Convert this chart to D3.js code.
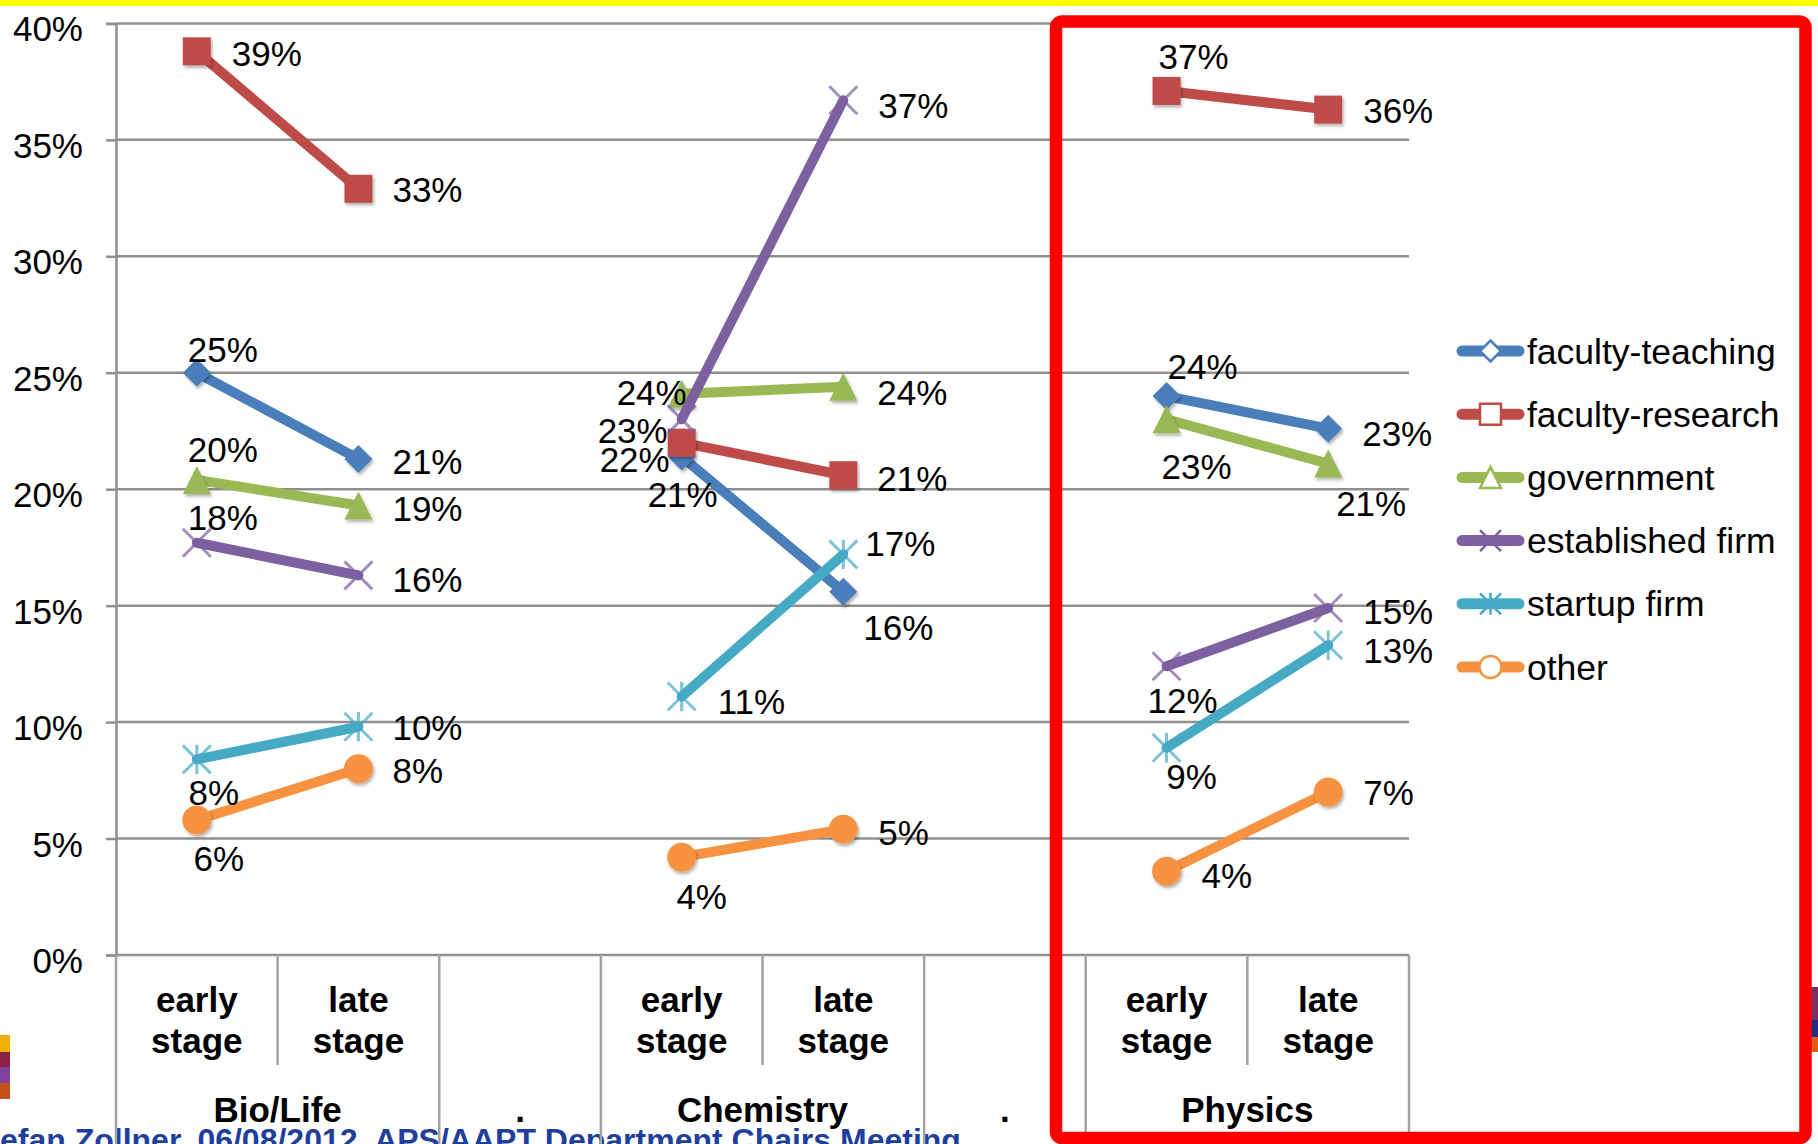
<!DOCTYPE html>
<html>
<head>
<meta charset="utf-8">
<script src="https://cdn.jsdelivr.net/npm/d3@7"></script>
<style>
  html, body { margin: 0; padding: 0; background: #ffffff; }
  svg { display: block; }
  text { font-family: "Liberation Sans", Arial, Helvetica, sans-serif; }
</style>
</head>
<body>
<svg id="chart" width="1818" height="1144"></svg>
<script>
// ---- data ----------------------------------------------------------------
const seriesNames = ["faculty-teaching", "faculty-research", "government",
                     "established firm", "startup firm", "other"];

// one value per plotted point: Bio early, Bio late, Chem early, Chem late, Phys early, Phys late (percent)
const facultyTeaching = [25.0, 21.3, 21.4, 15.6, 24.0, 22.6];
const facultyResearch = [38.8, 32.9, 22.0, 20.6, 37.1, 36.3];
const government      = [20.4, 19.3, 24.1, 24.4, 23.0, 21.1];
const establishedFirm = [17.7, 16.3, 23.0, 36.7, 12.4, 14.9];
const startupFirm     = [ 8.4,  9.8, 11.1, 17.2,  8.9, 13.3];
const other           = [ 5.8,  8.0,  4.2,  5.4,  3.6,  7.0];
const seriesValues = [facultyTeaching, facultyResearch, government,
                      establishedFirm, startupFirm, other];

// category axis: inner level (stage) and outer level (field)
const stageLabels = ["early stage", "late stage", "", "early stage", "late stage", "", "early stage", "late stage"];
const groupLabels = ["Bio/Life", ".", "Chemistry", ".", "Physics"];
const groupSizes  = [2, 1, 2, 1, 2];
const pointCategory = [0, 1, 3, 4, 6, 7];   // category slot of each plotted point
const linePairs = [[0, 1], [2, 3], [4, 5]];  // points joined within each field

const yTicks = [0, 5, 10, 15, 20, 25, 30, 35, 40];

// ---- styling ---------------------------------------------------------------
const seriesColors  = ["#4a7ebb", "#be4b48", "#98b954", "#7d60a0", "#46aac5", "#f69240"];
const seriesMarkers = ["diamond", "square", "triangle", "cross", "star", "circle"];

// data-label placement per point: [anchor, dx, dy to text centre]
const labelPlacement = [
  [["m", 26, -23], ["s", 34, 3], ["m", 1, 38], ["s", 20, 36], ["m", 36, -30], ["s", 34, 5]],
  [["s", 35, 2], ["s", 34, 1], ["e", -12, 17], ["s", 34, 3], ["m", 27, -34], ["s", 35, 1]],
  [["m", 26, -30], ["s", 34, 3], ["e", 5, -1], ["s", 34, 6], ["m", 30, 47], ["m", 43, 40]],
  [["m", 26, -25], ["s", 34, 4], ["e", -14, 11], ["s", 35, 5], ["m", 16, 34], ["s", 35, 4]],
  [["m", 17, 33], ["s", 34, 1], ["s", 36, 5], ["s", 22, -11], ["m", 25, 29], ["s", 35, 5]],
  [["m", 22, 39], ["s", 34, 2], ["m", 20, 39], ["s", 35, 3], ["s", 35, 4], ["s", 35, 1]]
];

const W = 1818, H = 1144;
const plot = { left: 116, right: 1409, top: 23.4, bottom: 955 };
const axisBottom = 1144;
const gridColor = "#8f8f8f";
const fontSize = 35;

const svg = d3.select("#chart");

svg.append("rect").attr("width", W).attr("height", H).attr("fill", "#ffffff");

const defs = svg.append("defs");
const shadow = defs.append("filter").attr("id", "soft")
  .attr("x", "-50%").attr("y", "-50%").attr("width", "200%").attr("height", "200%");
shadow.append("feDropShadow").attr("dx", 1.5).attr("dy", 2.5)
  .attr("stdDeviation", 1.8).attr("flood-color", "#000").attr("flood-opacity", 0.3);

// slide decoration: header band, footer line and side colour blocks
svg.append("rect").attr("x", 0).attr("y", 0).attr("width", W).attr("height", 6).attr("fill", "#ffff00");

svg.append("text")
  .attr("x", -32).attr("y", 1151)
  .attr("font-size", 32).attr("font-weight", "bold").attr("fill", "#1f3f9c")
  .text("Stefan Zollner, 06/08/2012, APS/AAPT Department Chairs Meeting");

const leftBlocks = [["#f0b000", 1035, 1052], ["#8b2245", 1052, 1067], ["#8040a0", 1067, 1083], ["#c4521a", 1083, 1099]];
leftBlocks.forEach(b => svg.append("rect").attr("x", 0).attr("y", b[1]).attr("width", 10).attr("height", b[2] - b[1]).attr("fill", b[0]));
const rightBlocks = [["#7a3060", 987, 1020], ["#203080", 1020, 1037], ["#e06010", 1037, 1052]];
rightBlocks.forEach(b => svg.append("rect").attr("x", 1811).attr("y", b[1]).attr("width", 7).attr("height", b[2] - b[1]).attr("fill", b[0]));

// ---- scales ----------------------------------------------------------------
const x = d3.scaleBand().domain(d3.range(stageLabels.length)).range([plot.left, plot.right]).padding(0);
const y = d3.scaleLinear().domain([0, 40]).range([plot.bottom, plot.top]);
const cx = i => x(pointCategory[i]) + x.bandwidth() / 2;

// gridlines
svg.append("g").selectAll("line").data(yTicks).join("line")
  .attr("x1", plot.left).attr("x2", plot.right)
  .attr("y1", d => y(d)).attr("y2", d => y(d))
  .attr("stroke", gridColor).attr("stroke-width", 2.5);

// value axis
const yAxis = svg.append("g").attr("transform", `translate(${plot.left},0)`)
  .call(d3.axisLeft(y).tickValues(yTicks).tickSize(10).tickPadding(23).tickFormat(d => d + "%"));
yAxis.select(".domain").attr("stroke", gridColor).attr("stroke-width", 2.5);
yAxis.selectAll(".tick line").attr("stroke", gridColor).attr("stroke-width", 2.5);
yAxis.selectAll(".tick text").attr("font-size", fontSize).attr("fill", "#000")
  .attr("font-family", "Liberation Sans, Arial, sans-serif").attr("dy", "0.5em");

// category axis: dividers
const outerBounds = [0];
groupSizes.forEach(s => outerBounds.push(outerBounds[outerBounds.length - 1] + s));
const innerBounds = [];
outerBounds.slice(0, -1).forEach((b, gi) => { for (let k = 1; k < groupSizes[gi]; k++) innerBounds.push(b + k); });
const boundX = k => plot.left + x.step() * k;

svg.append("g").selectAll("line").data(outerBounds).join("line")
  .attr("x1", boundX).attr("x2", boundX)
  .attr("y1", plot.bottom).attr("y2", axisBottom)
  .attr("stroke", "#a3a3a3").attr("stroke-width", 2.5);
svg.append("g").selectAll("line").data(innerBounds).join("line")
  .attr("x1", boundX).attr("x2", boundX)
  .attr("y1", plot.bottom).attr("y2", 1065)
  .attr("stroke", "#a3a3a3").attr("stroke-width", 2.5);

// category axis: stage labels (two lines each)
const stageText = svg.append("g").selectAll("text")
  .data(stageLabels.map((s, i) => ({ s, i })).filter(d => d.s))
  .join("text")
  .attr("x", d => x(d.i) + x.bandwidth() / 2)
  .attr("y", 1012)
  .attr("text-anchor", "middle").attr("font-size", fontSize).attr("font-weight", "bold").attr("fill", "#000");
stageText.each(function (d) {
  const words = d.s.split(" ");
  const t = d3.select(this);
  words.forEach((w, wi) => t.append("tspan").attr("x", x(d.i) + x.bandwidth() / 2)
    .attr("dy", wi === 0 ? 0 : 40.6).text(w));
});

// category axis: field labels
svg.append("g").selectAll("text").data(groupLabels).join("text")
  .attr("x", (d, gi) => (boundX(outerBounds[gi]) + boundX(outerBounds[gi + 1])) / 2)
  .attr("y", 1122)
  .attr("text-anchor", "middle").attr("font-size", fontSize).attr("font-weight", "bold").attr("fill", "#000")
  .text(d => d);

// ---- markers ---------------------------------------------------------------
function markerPath(type, r) {
  switch (type) {
    case "diamond":  return `M0,${-r}L${r},0L0,${r}L${-r},0Z`;
    case "square":   return `M${-r},${-r}H${r}V${r}H${-r}Z`;
    case "triangle": return `M0,${-r}L${r},${r}L${-r},${r}Z`;
    case "cross":    return `M${-r},${-r}L${r},${r}M${r},${-r}L${-r},${r}`;
    case "star":     return `M${-r},${-r}L${r},${r}M${r},${-r}L${-r},${r}M0,${-r * 1.05}V${r * 1.05}`;
    case "circle":   return `M${r},0A${r},${r} 0 1 1 ${-r},0A${r},${r} 0 1 1 ${r},0Z`;
  }
}
const isStroked = t => t === "cross" || t === "star";

const line = d3.line().x(d => d[0]).y(d => d[1]);
const fmt = d3.format(".0%");

// series, drawn in order so later series sit on top
seriesNames.forEach((name, si) => {
  const vals = seriesValues[si];
  const color = seriesColors[si];
  const g = svg.append("g").attr("class", "series");
  linePairs.forEach(p => {
    g.append("path")
      .attr("d", line(p.map(i => [cx(i), y(vals[i])])))
      .attr("fill", "none").attr("stroke", color).attr("stroke-width", 10)
      .attr("stroke-linecap", "round").attr("stroke-linejoin", "round");
  });
  const mType = seriesMarkers[si];
  const r = mType === "circle" ? 14.5 : (mType === "diamond" ? 14 : 14);
  g.selectAll("path.mark").data(vals).join("path").attr("class", "mark")
    .attr("transform", (v, i) => `translate(${cx(i)},${y(v)})`)
    .attr("d", markerPath(mType, r))
    .attr("fill", isStroked(mType) ? "none" : color)
    .attr("stroke", isStroked(mType) ? color : "none")
    .attr("stroke-width", isStroked(mType) ? 3 : 0)
    .attr("stroke-opacity", isStroked(mType) ? 0.7 : 1)
    .attr("filter", isStroked(mType) ? null : "url(#soft)");
});

// data labels
seriesNames.forEach((name, si) => {
  const vals = seriesValues[si];
  svg.append("g").selectAll("text").data(vals).join("text")
    .attr("x", (v, i) => cx(i) + labelPlacement[si][i][1])
    .attr("y", (v, i) => y(v) + labelPlacement[si][i][2] + fontSize * 0.357)
    .attr("text-anchor", (v, i) => ({ s: "start", m: "middle", e: "end" })[labelPlacement[si][i][0]])
    .attr("font-size", fontSize).attr("fill", "#000")
    .text(v => fmt(v / 100));
});

// ---- legend ----------------------------------------------------------------
const legend = svg.append("g").attr("transform", "translate(1458,351)");
seriesNames.forEach((name, si) => {
  const row = legend.append("g").attr("transform", `translate(0,${si * 63.2})`);
  row.append("line").attr("x1", 4).attr("x2", 61).attr("y1", 0).attr("y2", 0)
    .attr("stroke", seriesColors[si]).attr("stroke-width", 11).attr("stroke-linecap", "round");
  const mType = seriesMarkers[si];
  row.append("path").attr("transform", "translate(32.5,0)")
    .attr("d", markerPath(mType, mType === "circle" ? 11 : 10.5))
    .attr("fill", isStroked(mType) ? "none" : "#ffffff")
    .attr("stroke", seriesColors[si]).attr("stroke-width", 2.5);
  row.append("text").attr("x", 69).attr("y", fontSize * 0.357)
    .attr("font-size", 35.5).attr("fill", "#000").text(name);
});

// highlight frame around the physics panel
svg.append("rect")
  .attr("x", 1056).attr("y", 21.5).attr("width", 749.5).attr("height", 1116.5)
  .attr("rx", 6).attr("fill", "none").attr("stroke", "#ff0000").attr("stroke-width", 12.5);
</script>
</body>
</html>
